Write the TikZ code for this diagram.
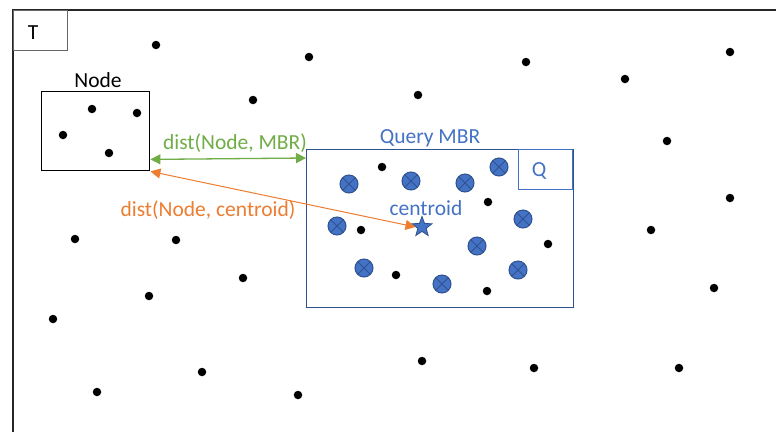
\documentclass[tikz,border=0pt]{standalone}
\usepackage{fontspec}
\setmainfont{Carlito}
\usetikzlibrary{arrows.meta,shapes.geometric}
\definecolor{qblue}{HTML}{4472C4}
\definecolor{qdark}{HTML}{2F528F}
\definecolor{qgreen}{HTML}{70AD47}
\definecolor{qorange}{HTML}{ED7D31}
\tikzset{
  pt/.style={circle,fill=black,inner sep=0pt,minimum size=8.5pt},
  qpt/.style={circle,fill=qblue,draw=qdark,line width=1pt,inner sep=0pt,minimum size=18pt,
    path picture={\draw[qdark,line width=1pt]
      (path picture bounding box.north west) -- (path picture bounding box.south east)
      (path picture bounding box.north east) -- (path picture bounding box.south west);}},
  lbl/.style={font=\fontsize{21.5}{24}\selectfont,inner sep=0pt},
  >={Triangle[length=10pt,width=10pt]},
}
\begin{document}
\begin{tikzpicture}[x=1pt,y=-1pt]
\useasboundingbox (0,0) rectangle (776,432);
\fill[white] (0,0) rectangle (776,432);

% outer space T
\draw[line width=1.8pt,black!85] (776,10) -- (13,10) -- (13,432);
\node[draw=black!60,line width=0.8pt,minimum width=54pt,minimum height=40pt,inner sep=0pt,anchor=north west] (tbox) at (13,10) {};
\node[lbl] (tlabel) at (33,33) {T};

% index node with its points
\node[draw=black,line width=1.4pt,minimum width=108pt,minimum height=79pt,inner sep=0pt,anchor=north west] (nodebox) at (41,91) {};
\node[lbl] (nodelabel) at (98,80) {Node};
\foreach \x/\y in {92/109,137/113,63/135,109/153}
  \node[pt] at (\x,\y) {};

% query MBR
\node[draw=qdark,line width=1.4pt,minimum width=267pt,minimum height=158pt,inner sep=0pt,anchor=north west] (qmbr) at (306,149) {};
\node[lbl,text=qblue] (qlabel) at (430,138) {Query MBR};
\node[draw=qblue,line width=0.8pt,minimum width=54pt,minimum height=40pt,inner sep=0pt,anchor=north east] (qbox) at ([xshift=-1.5pt]qmbr.north east) {};
\node[lbl,text=qblue] (qname) at (539,171) {Q};

% data points
\foreach \x/\y in {156/45,309/57,526/62,730/52,625/79,253/100,418/95,667/141,730/198,
                   75/239,176/240,651/230,243/278,149/296,53/319,714/288,
                   422/361,534/368,679/368,202/372,97/392,298/395,
                   382/167,488/202,361/230,548/244,396/275,487/291}
  \node[pt] at (\x,\y) {};

% query points
\foreach \x/\y in {349/184,411/181,465/183,499/167,337/226,523/219,477/246,364/268,442/284,518/270}
  \node[qpt] at (\x,\y) {};

% centroid of the query points
\node[star,star points=5,star point ratio=2.4,fill=qblue,draw=qdark,line width=0.8pt,
      minimum size=21pt,inner sep=0pt] (centroid) at (422,227) {};
\node[lbl,text=qblue] (clabel) at (426,208) {centroid};

% distances
\draw[qgreen,line width=1.3pt,<->]
  ([yshift=12pt]nodebox.south east) -- ([yshift=-9pt]qmbr.north west);
\node[lbl,text=qgreen] (mlabel) at (235,143) {dist(Node, MBR)};
\draw[qorange,line width=1pt,<->]
  (nodebox.south east) -- (centroid.west);
\node[lbl,text=qorange] (dlabel) at (208,210) {dist(Node, centroid)};
\end{tikzpicture}
\end{document}
